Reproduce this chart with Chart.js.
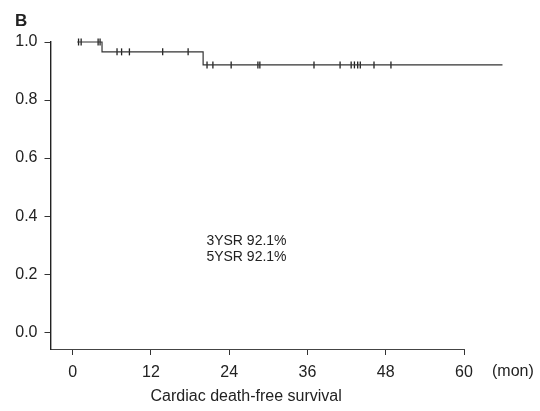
<!DOCTYPE html>
<html>
<head>
<meta charset="utf-8">
<script src="https://cdn.jsdelivr.net/npm/chart.js@4/dist/chart.umd.min.js"></script>
<style>
  html, body { margin: 0; padding: 0; background: #fff; }
  #wrap { width: 540px; height: 411px; }
</style>
</head>
<body>
<div id="wrap"><canvas id="km"></canvas></div>
<script>
// Kaplan-Meier steps (months, survival after the step)
const stepTimes = [0.7, 4.5, 20.0, 65.9];
const stepSurv = [1.0, 0.966, 0.921, 0.921];

// Censored observations
const censorTimes = [0.9, 1.3, 3.9, 4.2, 6.8, 7.5, 8.7, 13.8, 17.7,
    20.6, 21.5, 24.3, 28.4, 28.7, 37.0, 41.0, 42.7, 43.2, 43.7, 44.1, 46.2, 48.8];
const censorSurv = [1.0, 1.0, 1.0, 1.0, 0.966, 0.966, 0.966, 0.966, 0.966,
    0.921, 0.921, 0.921, 0.921, 0.921, 0.921, 0.921, 0.921, 0.921, 0.921, 0.921, 0.921, 0.921];

// Axis ticks
const xTicks = [0, 12, 24, 36, 48, 60];
const yTicks = [0, 0.2, 0.4, 0.6, 0.8, 1.0];

// Text
const annotations = ['3YSR 92.1%', '5YSR 92.1%'];
const xTitle = 'Cardiac death-free survival';
const xUnit = '(mon)';
const panel = 'B';

const FONT = '"Liberation Sans", Arial, sans-serif';
const INK = '#222';

const textPlugin = {
    id: 'kmText',
    afterDraw(chart) {
        const ctx = chart.ctx;
        const x = chart.scales.x, y = chart.scales.y;
        const area = chart.chartArea;
        ctx.save();
        ctx.fillStyle = INK;

        // panel letter
        ctx.font = 'bold 17px ' + FONT;
        ctx.textAlign = 'left';
        ctx.textBaseline = 'alphabetic';
        ctx.fillText(panel, 15, 26);

        // survival rates
        ctx.font = '14px ' + FONT;
        ctx.textBaseline = 'middle';
        ctx.fillText(annotations[0], x.getPixelForValue(20.5), y.getPixelForValue(0.314));
        ctx.fillText(annotations[1], x.getPixelForValue(20.5), y.getPixelForValue(0.258));

        // unit next to last tick
        ctx.font = '16px ' + FONT;
        ctx.fillText(xUnit, x.getPixelForValue(64.3), area.bottom + 23);

        // axis title
        ctx.textAlign = 'center';
        ctx.fillText(xTitle, x.getPixelForValue(26.6), area.bottom + 48);
        ctx.restore();
    }
};

const stepPoints = stepTimes.map((t, i) => ({ x: t, y: stepSurv[i] }));
const censorPoints = censorTimes.map((t, i) => ({ x: t, y: censorSurv[i] }));

new Chart(document.getElementById('km'), {
    type: 'scatter',
    data: {
        datasets: [{
            data: stepPoints,
            showLine: true,
            stepped: true,
            borderColor: '#333',
            borderWidth: 1.2,
            pointRadius: 0,
            clip: false
        }, {
            data: censorPoints,
            showLine: false,
            pointStyle: 'line',
            rotation: 90,
            pointRadius: 3.5,
            borderColor: '#222',
            borderWidth: 1.3,
            clip: false
        }]
    },
    options: {
        responsive: true,
        maintainAspectRatio: false,
        animation: false,
        events: [],
        layout: { padding: { left: 0, top: 42, right: 76, bottom: 0 } },
        plugins: {
            legend: { display: false },
            tooltip: { enabled: false }
        },
        scales: {
            x: {
                type: 'linear',
                min: -3.4,
                max: 60,
                afterBuildTicks: scale => { scale.ticks = xTicks.map(v => ({ value: v })); },
                afterFit: scale => { scale.height = 62; },
                grid: { drawOnChartArea: false, drawTicks: true, tickLength: 6, color: '#333', lineWidth: 1 },
                border: { color: '#444', width: 1 },
                ticks: { color: INK, font: { family: FONT, size: 16 }, padding: 8, maxRotation: 0 }
            },
            y: {
                type: 'linear',
                min: -0.058,
                max: 1.0,
                afterBuildTicks: scale => { scale.ticks = yTicks.map(v => ({ value: v })); },
                afterFit: scale => { scale.width = 50.5; },
                grid: { drawOnChartArea: false, drawTicks: true, tickLength: 6, color: '#333', lineWidth: 1 },
                border: { color: '#222', width: 1.4 },
                ticks: {
                    color: INK,
                    font: { family: FONT, size: 16 },
                    padding: 7,
                    callback: v => v.toFixed(1)
                }
            }
        }
    },
    plugins: [textPlugin]
});
</script>
</body>
</html>
